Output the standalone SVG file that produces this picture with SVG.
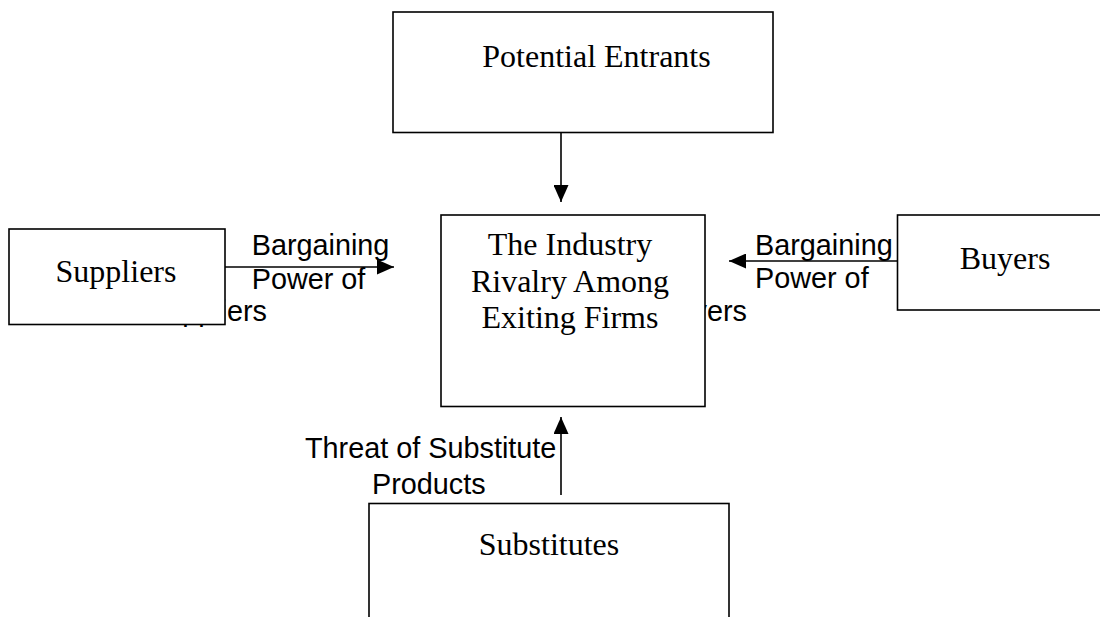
<svg xmlns="http://www.w3.org/2000/svg" width="1100" height="617" viewBox="0 0 1100 617">
<style>
.box{fill:#fff;stroke:#000;stroke-width:1.6}
.nt{font-family:"Liberation Serif","Times New Roman",serif;font-size:32px;fill:#000;text-anchor:middle}
.lb{font-family:"Liberation Sans",Arial,sans-serif;font-size:28.8px;fill:#000}
.ln{stroke:#000;stroke-width:1.6;fill:none;marker-end:url(#ah)}
</style>
<defs>
<marker id="ah" markerUnits="userSpaceOnUse" markerWidth="17" markerHeight="15" refX="17" refY="7.5" orient="auto">
<path d="M0,0 L17,7.5 L0,15 Z" fill="#000"/>
</marker>
</defs>
<rect width="1100" height="617" fill="#fff"/>
<g id="connectors">
<line class="ln" x1="561" y1="132" x2="561" y2="202"/>
<line class="ln" x1="225" y1="267" x2="394" y2="267"/>
<line class="ln" x1="897" y1="261" x2="729" y2="261"/>
<line class="ln" x1="561" y1="495" x2="561" y2="417"/>
<g id="label-suppliers">
<text class="lb" x="251.7" y="255">Bargaining</text>
<text class="lb" x="251.7" y="288.5">Power of</text>
<text class="lb" x="267" y="321" text-anchor="end">Suppliers</text>
</g>
<g id="label-buyers">
<text class="lb" x="755" y="255">Bargaining</text>
<text class="lb" x="755" y="288">Power of</text>
<text class="lb" x="747" y="321" text-anchor="end">Buyers</text>
</g>
<g id="label-substitutes">
<text class="lb" x="305" y="458">Threat of Substitute</text>
<text class="lb" x="372" y="494">Products</text>
</g>
</g>
<g id="nodes">
<g id="potential-entrants">
<rect class="box" x="393" y="12" width="380" height="120.5"/>
<text class="nt" x="596.5" y="67">Potential Entrants</text>
</g>
<g id="industry">
<rect class="box" x="441" y="215" width="264" height="191.5"/>
<text class="nt" x="570" y="255">The Industry</text>
<text class="nt" x="570" y="291.5">Rivalry Among</text>
<text class="nt" x="570" y="328">Exiting Firms</text>
</g>
<g id="suppliers">
<rect class="box" x="9" y="229" width="216" height="95.5"/>
<text class="nt" x="116" y="282">Suppliers</text>
</g>
<g id="buyers">
<rect class="box" x="897.5" y="215" width="220" height="95"/>
<text class="nt" x="1005" y="269">Buyers</text>
</g>
<g id="substitutes">
<rect class="box" x="369" y="503.5" width="360" height="130"/>
<text class="nt" x="549" y="555">Substitutes</text>
</g>
</g>
</svg>
